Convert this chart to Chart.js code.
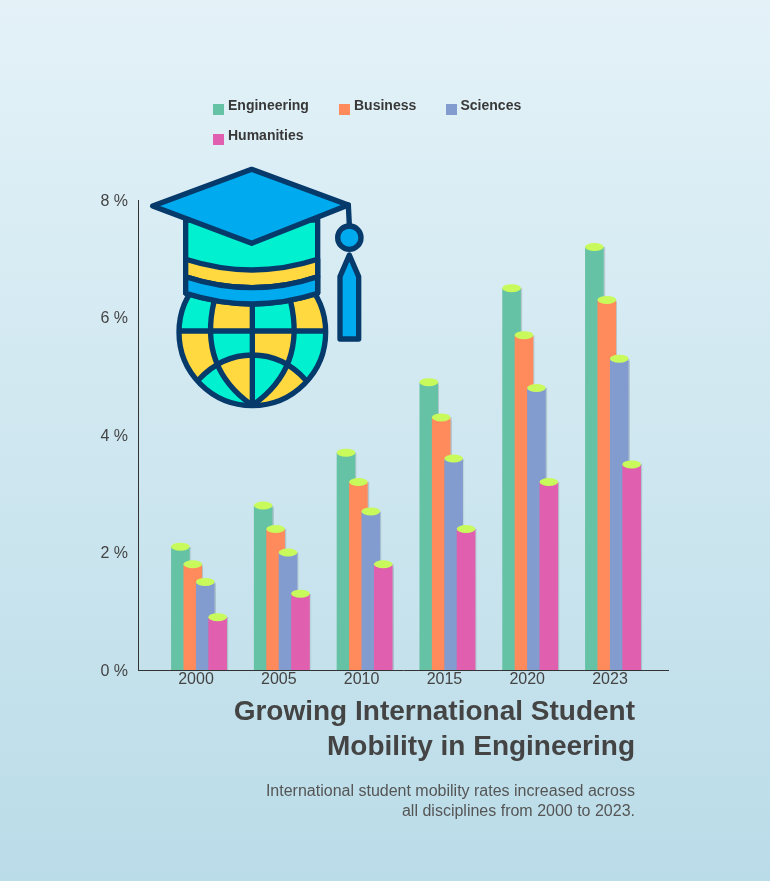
<!DOCTYPE html>
<html><head><meta charset="utf-8">
<script src="https://cdn.jsdelivr.net/npm/chart.js@4"></script>
<style>
html,body{margin:0;padding:0}
body{width:770px;height:881px;overflow:hidden;position:relative;background:linear-gradient(180deg,#e4f2f8 0%,#badce8 100%);font-family:"Liberation Sans",Arial,sans-serif}
canvas{position:absolute;left:0;top:0}
.lg{position:absolute;font-weight:700;font-size:14px;line-height:16px;color:#383838;white-space:nowrap}
.sw{position:absolute;width:11px;height:11px}
#title{position:absolute;right:135px;top:693px;text-align:right;font-weight:700;font-size:28px;line-height:35px;color:#444;white-space:nowrap}
#sub{position:absolute;right:135px;top:781px;text-align:right;font-size:16px;line-height:20px;color:#555;white-space:nowrap}
svg{position:absolute;left:140px;top:160px}
</style></head><body>
<canvas id="c" width="770" height="881" style="width:770px;height:881px"></canvas>
<svg width="240" height="260" viewBox="0 0 720 780" fill="none" stroke="#063a6b" stroke-width="16" stroke-linejoin="round" stroke-linecap="round">
<defs><clipPath id="g"><circle cx="337" cy="517" r="220"/></clipPath></defs>
<circle cx="337" cy="517" r="220" fill="#00f0d0" stroke="none"/>
<g clip-path="url(#g)" fill="#ffd93f" stroke="none">
<path d="M222 380L337 380L337 513L208 513Z"/>
<path d="M452 380L600 380L600 513L466 513Z"/>
<path d="M80 513L208 513C210 565 218 590 232 610Q200 628 175 660L80 680Z"/>
<path d="M337 513L466 513C464 565 455 590 442 610Q390 585 337 585Z"/>
<path d="M337 585Q285 585 232 610C255 670 290 710 335 735L337 735Z"/>
<path d="M442 610Q475 630 497 660L520 780L337 745C385 710 425 670 442 610Z"/>
</g>
<g>
<path d="M337 420V735"/>
<path d="M125 513H550"/>
<path d="M222 425C195 540 215 650 335 735M452 425C479 540 459 650 339 735"/>
<path d="M175 660Q245 585 337 585Q430 585 497 660"/>
<circle cx="337" cy="517" r="220"/>
</g>
<path d="M137 180V400Q337 464 533 400V180Z" fill="#00f0d0"/>
<path d="M137 298Q337 362 533 298V350Q337 416 137 350Z" fill="#ffd93f"/>
<path d="M137 350Q337 416 533 350V400Q337 464 137 400Z" fill="#00aaee"/>
<path d="M335 28L625 135L335 250L38 138Z" fill="#00aaee"/>
<path d="M625 135L628 195"/>
<circle cx="628" cy="233" r="35" fill="#00aaee"/>
<path d="M628 285L656 350V537H600V350Z" fill="#00aaee"/>
</svg>
<div id="legend"></div>
<div id="title">Growing International Student<br>Mobility in Engineering</div>
<div id="sub">International student mobility rates increased across<br>all disciplines from 2000 to 2023.</div>
<script>
const years = ['2000','2005','2010','2015','2020','2023'];
const engineering = [2.1,2.8,3.7,4.9,6.5,7.2];
const business = [1.8,2.4,3.2,4.3,5.7,6.3];
const sciences = [1.5,2.0,2.7,3.6,4.8,5.3];
const humanities = [0.9,1.3,1.8,2.4,3.2,3.5];
const seriesNames = ['Engineering','Business','Sciences','Humanities'];
const seriesValues = [engineering,business,sciences,humanities];
const seriesColors = ['#66c2a5','#ff8a5c','#829cd0','#e05fae'];
const capColor = '#c8fa5c';

const cylinders = {
  id:'cylinders',
  beforeDatasetsDraw(chart){
    const ctx = chart.ctx;
    chart.getSortedVisibleDatasetMetas().forEach(meta=>{
      ctx.save();
      ctx.shadowColor = 'rgba(0,0,0,0.14)';
      ctx.shadowOffsetX = 1;
      ctx.shadowBlur = 1;
      meta.controller.draw();
      ctx.restore();
      ctx.save();
      ctx.fillStyle = capColor;
      meta.data.forEach(b=>{
        ctx.beginPath();
        ctx.ellipse(b.x,b.y,b.width/2,4,0,0,Math.PI*2);
        ctx.fill();
      });
      ctx.restore();
    });
    return false;
  }
};

new Chart(document.getElementById('c'),{
  type:'bar',
  data:{datasets:seriesNames.map((name,i)=>({
    label:name,
    data:seriesValues[i].map((v,k)=>({x:k,y:v})),
    backgroundColor:seriesColors[i],
    borderWidth:0
  }))},
  plugins:[cylinders],
  options:{
    responsive:false,animation:false,devicePixelRatio:1,
    categoryPercentage:0.6,barPercentage:1.5,
    layout:{padding:{top:200,right:102,left:0,bottom:0}},
    plugins:{legend:{display:false},title:{display:false},tooltip:{enabled:false}},
    scales:{
      x:{type:'linear',offset:false,min:-0.737,max:5.664,
        afterBuildTicks(a){a.ticks=years.map((_,i)=>({value:i}));},
        afterFit(a){a.height=211;},
        grid:{display:false,drawTicks:false},
        border:{display:true,color:'#333',width:1},
        ticks:{autoSkip:false,maxRotation:0,padding:0,labelOffset:-3,color:'#444',
          font:{family:'"Liberation Sans"',size:16},
          callback:v=>years[v]}
      },
      y:{min:0,max:8,
        afterFit(a){a.width=138;},
        grid:{display:false,drawTicks:false},
        border:{display:true,color:'#333',width:1},
        ticks:{stepSize:2,padding:10,labelOffset:1.5,color:'#444',
          font:{family:'"Liberation Sans"',size:16},
          callback:v=>v+' %'}
      }
    }
  }
});

const legendX = [213,339,445.5,213], legendY = [105,105,105,135];
const lg = document.getElementById('legend');
seriesNames.forEach((n,i)=>{
  const s=document.createElement('div');s.className='sw';
  s.style.cssText=`left:${legendX[i]}px;top:${legendY[i]-1}px;background:${seriesColors[i]}`;
  const t=document.createElement('div');t.className='lg';t.textContent=n;
  t.style.cssText=`left:${legendX[i]+15}px;top:${legendY[i]-8}px`;
  lg.append(s,t);
});
</script>
</body></html>
